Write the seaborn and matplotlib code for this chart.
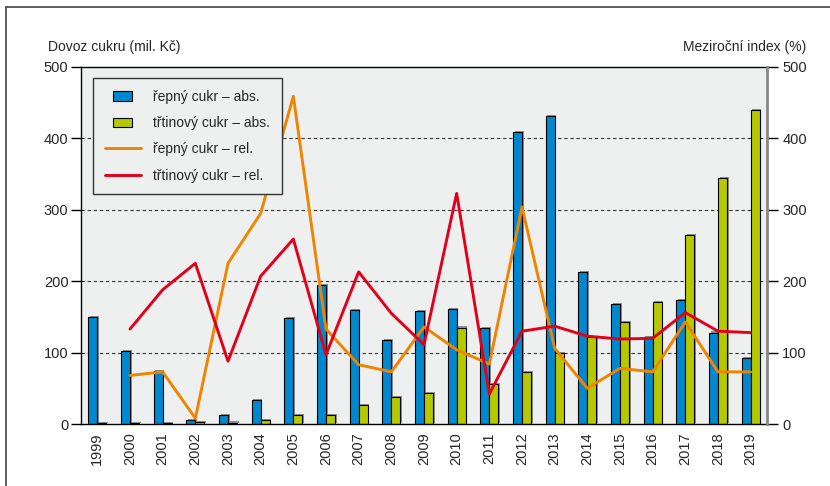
import numpy as np
import pandas as pd
import matplotlib
matplotlib.use('Agg')
import matplotlib.pyplot as plt
import matplotlib.patheffects as pe
from matplotlib.lines import Line2D
from matplotlib.patches import Patch, Rectangle
from matplotlib.legend_handler import HandlerPatch
import seaborn as sns

# data
years = [str(y) for y in range(1999, 2020)]
repny_abs = [150, 102, 74, 5, 12, 33, 148, 195, 160, 117, 158, 161, 134, 409, 431, 213, 168, 122, 174, 128, 92]
trtinovy_abs = [1, 1, 1, 3, 2, 5, 13, 12, 26, 38, 43, 135, 56, 73, 99, 122, 143, 171, 265, 344, 440]
repny_rel = [np.nan, 68, 73, 8, 225, 295, 459, 133, 83, 73, 136, 104, 84, 304, 106, 50, 78, 73, 143, 73, 73]
trtinovy_rel = [np.nan, 133, 188, 225, 88, 207, 259, 97, 213, 155, 111, 323, 42, 130, 137, 123, 119, 120, 156, 130, 128]

series_names = ['řepný cukr – abs.', 'třtinový cukr – abs.', 'řepný cukr – rel.', 'třtinový cukr – rel.']
c_blue, c_green, c_orange, c_red = '#0088cf', '#b5c800', '#f08400', '#e2001a'
bg = '#eeefef'

sns.set_style('white')
plt.rcParams['font.family'] = ['Liberation Sans', 'DejaVu Sans']
plt.rcParams['font.size'] = 10

df_bars = pd.DataFrame({
    'rok': years * 2,
    'hodnota': repny_abs + trtinovy_abs,
    'druh': [series_names[0]] * len(years) + [series_names[1]] * len(years),
})

fig = plt.figure(figsize=(8.3, 4.86), dpi=100)
ax = fig.add_axes([81 / 830, 1 - 424 / 486, 686 / 830, 357 / 486])
ax.set_facecolor(bg)

sns.barplot(data=df_bars, x='rok', y='hodnota', hue='druh', palette=[c_blue, c_green],
            width=0.56, edgecolor='black', linewidth=0.8, saturation=1, legend=False, ax=ax)
for p in ax.patches:
    p.set_path_effects([pe.SimplePatchShadow(offset=(1.2, 0.8), shadow_rgbFace='#777777', alpha=0.8), pe.Normal()])

ax.set_xlim(-0.5, len(years) - 0.5)
ax.set_ylim(0, 500)
ax.set_yticks([0, 100, 200, 300, 400, 500])
for v in [100, 200, 300, 400]:
    ax.axhline(v, color='#333333', lw=0.8, ls=(0, (3, 2.5)), zorder=0.5)
ax.set_xlabel('')
ax.set_ylabel('')
ax.tick_params(axis='x', which='major', length=0, rotation=90, labelsize=10.5, pad=6)
ax.set_xticks(np.arange(len(years) + 1) - 0.5, minor=True)
ax.tick_params(axis='x', which='minor', length=6, width=1, color='black', direction='out')
ax.tick_params(axis='y', length=7, width=1, color='black', labelsize=10.5, pad=2)
for s in ['left', 'bottom', 'top']:
    ax.spines[s].set_color('black')
    ax.spines[s].set_linewidth(1)
ax.spines['right'].set_visible(False)

# relative series on the right axis
ax2 = ax.twinx()
xpos = np.arange(len(years))
sns.lineplot(x=xpos, y=repny_rel, color=c_orange, lw=2.1, ax=ax2)
sns.lineplot(x=xpos, y=trtinovy_rel, color=c_red, lw=2.1, ax=ax2)
ax2.set_ylim(0, 500)
ax2.set_xlim(-0.5, len(years) - 0.5)
ax2.set_yticks([0, 100, 200, 300, 400, 500])
ax2.tick_params(axis='y', length=8, width=1, color='black', labelsize=10.5, pad=3)
ax2.spines['right'].set_color('#888888')
ax2.spines['right'].set_linewidth(2)
for s in ['left', 'bottom', 'top']:
    ax2.spines[s].set_visible(False)


def small_box(legend, orig_handle, xdescent, ydescent, width, height, fontsize):
    w = width * 0.52
    h = height * 0.95
    return Rectangle((xdescent + (width - w) / 2, ydescent + (height - h) / 2), w, h)


handles = [Patch(facecolor=c_blue, edgecolor='black', lw=0.8),
           Patch(facecolor=c_green, edgecolor='black', lw=0.8),
           Line2D([], [], color=c_orange, lw=2.1),
           Line2D([], [], color=c_red, lw=2.1)]
leg = ax2.legend(handles, series_names, loc='upper left', bbox_to_anchor=(0.0175, 0.969),
                 borderaxespad=0, frameon=True, fancybox=False, facecolor=bg, edgecolor='#333333',
                 framealpha=1, fontsize=10, handlelength=2.6, handletextpad=0.9,
                 labelspacing=0.88, borderpad=0.85,
                 handler_map={Patch: HandlerPatch(patch_func=small_box)})
leg.get_frame().set_linewidth(1)

fig.text(48 / 830, 1 - 47 / 486, 'Dovoz cukru (mil. Kč)', ha='left', va='center', fontsize=10)
fig.text(806 / 830, 1 - 47 / 486, 'Meziroční index (%)', ha='right', va='center', fontsize=10)

# outer frame (top and left edges visible)
fig.add_artist(Line2D([6 / 830, 6 / 830], [0, 1 - 7 / 486], transform=fig.transFigure, color='#444444', lw=1.2))
fig.add_artist(Line2D([6 / 830, 1], [1 - 7 / 486, 1 - 7 / 486], transform=fig.transFigure, color='#444444', lw=1.2))

fig.savefig('out.png', dpi=100, facecolor='white')
